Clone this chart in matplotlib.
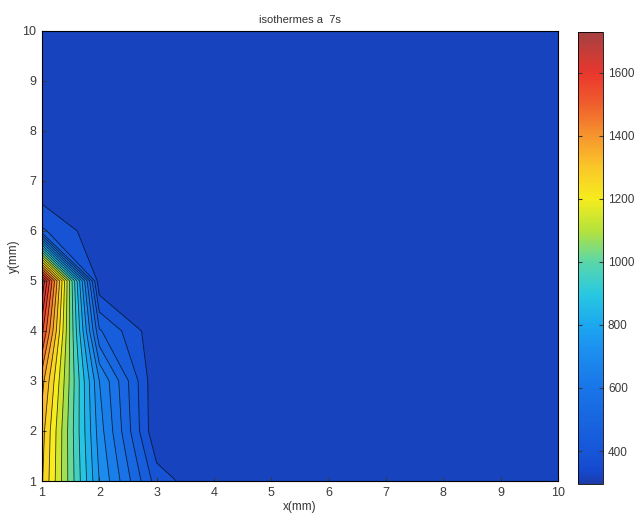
import numpy as np
import matplotlib
matplotlib.use("Agg")
import matplotlib.pyplot as plt
from matplotlib.colors import LinearSegmentedColormap, Normalize
from matplotlib.cm import ScalarMappable

plt.rcParams['font.family'] = ['Liberation Sans', 'DejaVu Sans']

# ---- data (temperature) ----
x_mm = [1, 2, 3, 4, 5, 6, 7, 8, 9, 10]
y_mm = [1, 2, 3, 4, 5, 6, 7, 8, 9, 10]
T_y1 = [1300, 730, 390, 295, 295, 295, 295, 295, 295, 295]
T_y2 = [1320, 700, 300, 295, 295, 295, 295, 295, 295, 295]
T_y3 = [1380, 670, 300, 295, 295, 295, 295, 295, 295, 295]
T_y4 = [1560, 490, 310, 295, 295, 295, 295, 295, 295, 295]
T_y5 = [1730, 305, 295, 295, 295, 295, 295, 295, 295, 295]
T_y6 = [430, 312, 295, 295, 295, 295, 295, 295, 295, 295]
T_y7 = [295, 295, 295, 295, 295, 295, 295, 295, 295, 295]
T_y8 = [295, 295, 295, 295, 295, 295, 295, 295, 295, 295]
T_y9 = [295, 295, 295, 295, 295, 295, 295, 295, 295, 295]
T_y10 = [295, 295, 295, 295, 295, 295, 295, 295, 295, 295]
t_min, t_max = 295, 1730
n_lines = 22
cbar_ticks = [400, 600, 800, 1000, 1200, 1400, 1600]
title = "isothermes a  7s"

T = np.array([T_y1, T_y2, T_y3, T_y4, T_y5, T_y6, T_y7, T_y8, T_y9, T_y10], dtype=float)
X, Y = np.meshgrid(x_mm, y_mm)

# washed-out jet
anchors = [
    (0.000, (28, 58, 168)),
    (0.025, (22, 72, 204)),
    (0.073, (23, 86, 216)),
    (0.213, (25, 118, 232)),
    (0.300, (28, 145, 240)),
    (0.352, (28, 168, 240)),
    (0.420, (40, 200, 225)),
    (0.491, (90, 215, 170)),
    (0.560, (180, 226, 60)),
    (0.631, (246, 236, 30)),
    (0.700, (250, 200, 40)),
    (0.770, (246, 150, 45)),
    (0.840, (240, 95, 45)),
    (0.909, (234, 55, 45)),
    (1.000, (165, 65, 65)),
]
cmap = LinearSegmentedColormap.from_list(
    "washjet", [(p, tuple(c / 255 for c in rgb)) for p, rgb in anchors])
norm = Normalize(vmin=t_min, vmax=t_max)

all_levels = np.linspace(t_min, t_max, n_lines + 2)
line_levels = all_levels[1:-1]
fill_levels = np.concatenate([[t_min - 10], line_levels, [t_max + 10]])

fig = plt.figure(figsize=(6.43, 5.15), dpi=100)
ax = fig.add_axes([0.0653, 0.066, 0.8025, 0.874])
ax.contourf(X, Y, T, levels=fill_levels, cmap=cmap, norm=norm)
ax.contour(X, Y, T, levels=line_levels, colors='k', linewidths=0.6, alpha=0.75)

ax.set_xlim(1, 10)
ax.set_ylim(1, 10)
ax.set_xticks(x_mm)
ax.set_yticks(y_mm)
ax.tick_params(direction='in', length=3, labelsize=9, colors='#3a3a3a', pad=4)
for s in ax.spines.values():
    s.set_linewidth(0.8)
ax.set_title(title, fontsize=8, color='#333333', pad=6)
ax.set_xlabel("x(mm)", fontsize=8.5, color='#333333', labelpad=2)
ax.set_ylabel("y(mm)", fontsize=8.5, color='#333333', labelpad=2)

cax = fig.add_axes([0.899, 0.06, 0.039, 0.878])
sm = ScalarMappable(norm=norm, cmap=cmap)
cb = fig.colorbar(sm, cax=cax, ticks=cbar_ticks)
cb.ax.tick_params(direction='in', length=3, labelsize=8.5, colors='#3a3a3a', left=True)
cb.outline.set_linewidth(0.6)

fig.savefig("out.png", dpi=100)
